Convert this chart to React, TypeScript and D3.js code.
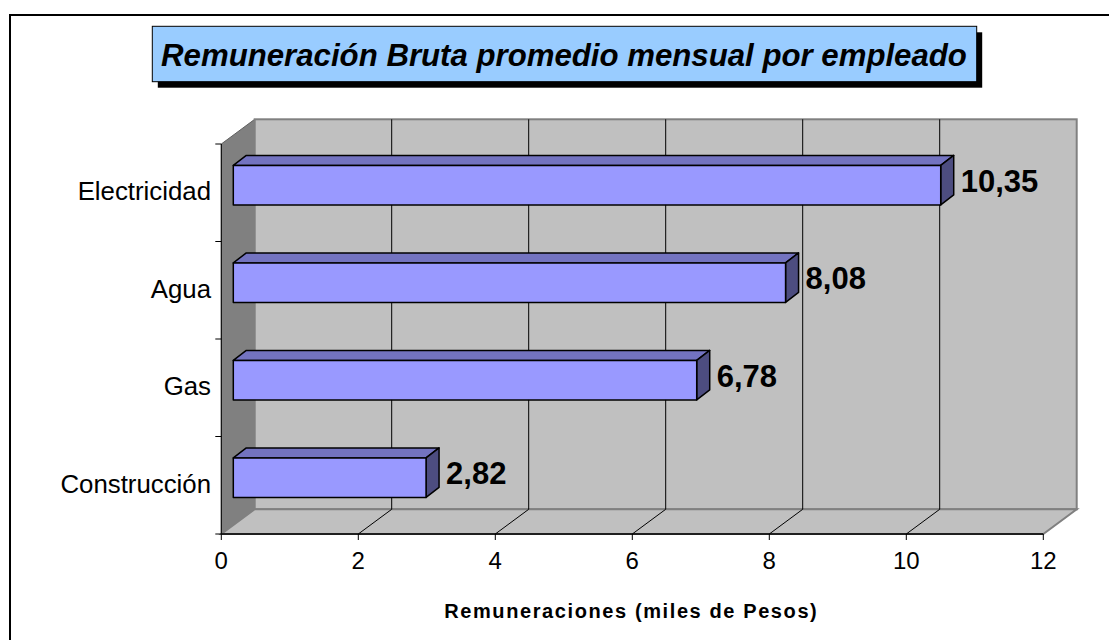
import React from "react";
import * as d3 from "d3";

const categories = ["Electricidad", "Agua", "Gas", "Construcción"];
const values = [10.35, 8.08, 6.78, 2.82];
const valueLabels = ["10,35", "8,08", "6,78", "2,82"];
const xTicks = [0, 2, 4, 6, 8, 10, 12];
const title = "Remuneración Bruta promedio mensual por empleado";
const axisTitle = "Remuneraciones (miles de Pesos)";

const W = 1109;
const H = 640;
const FONT = "'Liberation Sans', Arial, Helvetica, sans-serif";

// plot geometry (front plane)
const LEFT = 221.3;
const RIGHT = 1043.3;
const TOP = 144;
const BOTTOM = 534;
// wall depth offset
const DX = 33.4;
const DY = 24.7;
// bar depth
const BDX = 13;
const BDY = 10;
const BAR_X0 = 233.3;
const BAR_UNIT = 68.35;

export default function App() {
  const x = d3.scaleLinear().domain([0, 12]).range([LEFT, RIGHT]);
  const xb = d3.scaleLinear().domain([0, 12]).range([BAR_X0, BAR_X0 + 12 * BAR_UNIT]);
  const yBand = d3.scaleBand<string>().domain(categories).range([TOP, BOTTOM]).paddingInner(0.595).paddingOuter(0.2975);
  const yCat = d3.scaleBand<string>().domain(categories).range([TOP, BOTTOM]);
  const barShift = 7.6;

  const frontFill = "#9999FF";
  const topFill = "#7373C0";
  const sideFill = "#4D4D80";

  const bLeft = LEFT + DX;
  const bRight = RIGHT + DX;
  const bTop = TOP - DY;
  const bBottom = BOTTOM - DY;

  const pts = (arr: number[][]) => arr.map((p) => p.join(",")).join(" ");

  return (
    <svg width={W} height={H} style={{ position: "absolute", left: 0, top: 0, background: "#fff" }} fontFamily={FONT}>
      {/* outer frame */}
      <rect x={10} y={15} width={1130} height={700} fill="#fff" stroke="#000" strokeWidth={2} />

      {/* title */}
      <rect x={157.8} y={32.3} width={824.4} height={55.4} fill="#000" />
      <rect x={152.3} y={26.3} width={824.4} height={55.4} fill="#99CCFF" stroke="#000" strokeWidth={1} />
      <text x={564} y={66} textAnchor="middle" fontSize={31.2} fontWeight="bold" fontStyle="italic" fill="#000">
        {title}
      </text>

      {/* left wall */}
      <polygon points={pts([[LEFT, TOP], [bLeft, bTop], [bLeft, bBottom], [LEFT, BOTTOM]])} fill="#808080" stroke="#606060" strokeWidth={1} />
      {/* back wall */}
      <rect x={bLeft} y={bTop} width={bRight - bLeft} height={bBottom - bTop} fill="#C0C0C0" stroke="#808080" strokeWidth={2} />
      {/* floor */}
      <polygon points={pts([[LEFT, BOTTOM], [RIGHT, BOTTOM], [bRight, bBottom], [bLeft, bBottom]])} fill="#C0C0C0" stroke="#808080" strokeWidth={2} />

      {/* gridlines */}
      {xTicks.filter((t) => t > 0 && t < 12).map((t) => (
        <g key={"g" + t}>
          <line x1={x(t) + DX} x2={x(t) + DX} y1={bTop} y2={bBottom} stroke="#000" strokeWidth={1} />
          <line x1={x(t)} y1={BOTTOM} x2={x(t) + DX} y2={bBottom} stroke="#000" strokeWidth={1} />
        </g>
      ))}

      {/* axes */}
      <line x1={LEFT} x2={LEFT} y1={TOP} y2={BOTTOM} stroke="#000" strokeWidth={1} />
      <line x1={LEFT} x2={RIGHT} y1={BOTTOM} y2={BOTTOM} stroke="#000" strokeWidth={1.5} />
      {categories.map((c) => (
        <line key={"tk" + c} x1={LEFT - 6} x2={LEFT} y1={yCat(c)!} y2={yCat(c)!} stroke="#000" />
      ))}
      <line x1={LEFT - 6} x2={LEFT} y1={BOTTOM} y2={BOTTOM} stroke="#000" />
      {xTicks.map((t) => (
        <g key={"xt" + t}>
          <line x1={x(t)} x2={x(t)} y1={BOTTOM} y2={BOTTOM + 6} stroke="#000" />
          <text x={x(t)} y={569} textAnchor="middle" fontSize={24} fill="#000">
            {t}
          </text>
        </g>
      ))}

      {/* category labels */}
      {categories.map((c) => (
        <text key={"cl" + c} x={211} y={yCat(c)! + yCat.bandwidth() / 2 + 7.5} textAnchor="end" fontSize={25.8} fill="#000">
          {c}
        </text>
      ))}

      {/* bars */}
      {categories.map((c, i) => {
        const v = values[i];
        const x0 = xb(0);
        const x1 = xb(v);
        const y0 = yBand(c)! - barShift;
        const h = yBand.bandwidth();
        return (
          <g key={"b" + c} stroke="#000" strokeWidth={1.5} strokeLinejoin="round">
            <polygon points={pts([[x0, y0], [x0 + BDX, y0 - BDY], [x1 + BDX, y0 - BDY], [x1, y0]])} fill={topFill} />
            <polygon points={pts([[x1, y0], [x1 + BDX, y0 - BDY], [x1 + BDX, y0 + h - BDY], [x1, y0 + h]])} fill={sideFill} />
            <rect x={x0} y={y0} width={x1 - x0} height={h} fill={frontFill} />
          </g>
        );
      })}

      {/* value labels */}
      {categories.map((c, i) => {
        const y0 = yBand(c)! - barShift;
        const h = yBand.bandwidth();
        return (
          <text key={"vl" + c} x={xb(values[i]) + BDX + 7} y={y0 + h / 2 + 6.5} fontSize={31} fontWeight="bold" fill="#000">
            {valueLabels[i]}
          </text>
        );
      })}

      {/* axis title */}
      <text x={(LEFT + RIGHT) / 2 - 1} y={617.5} textAnchor="middle" fontSize={20} fontWeight="bold" letterSpacing={1.6} fill="#000">
        {axisTitle}
      </text>
    </svg>
  );
}
